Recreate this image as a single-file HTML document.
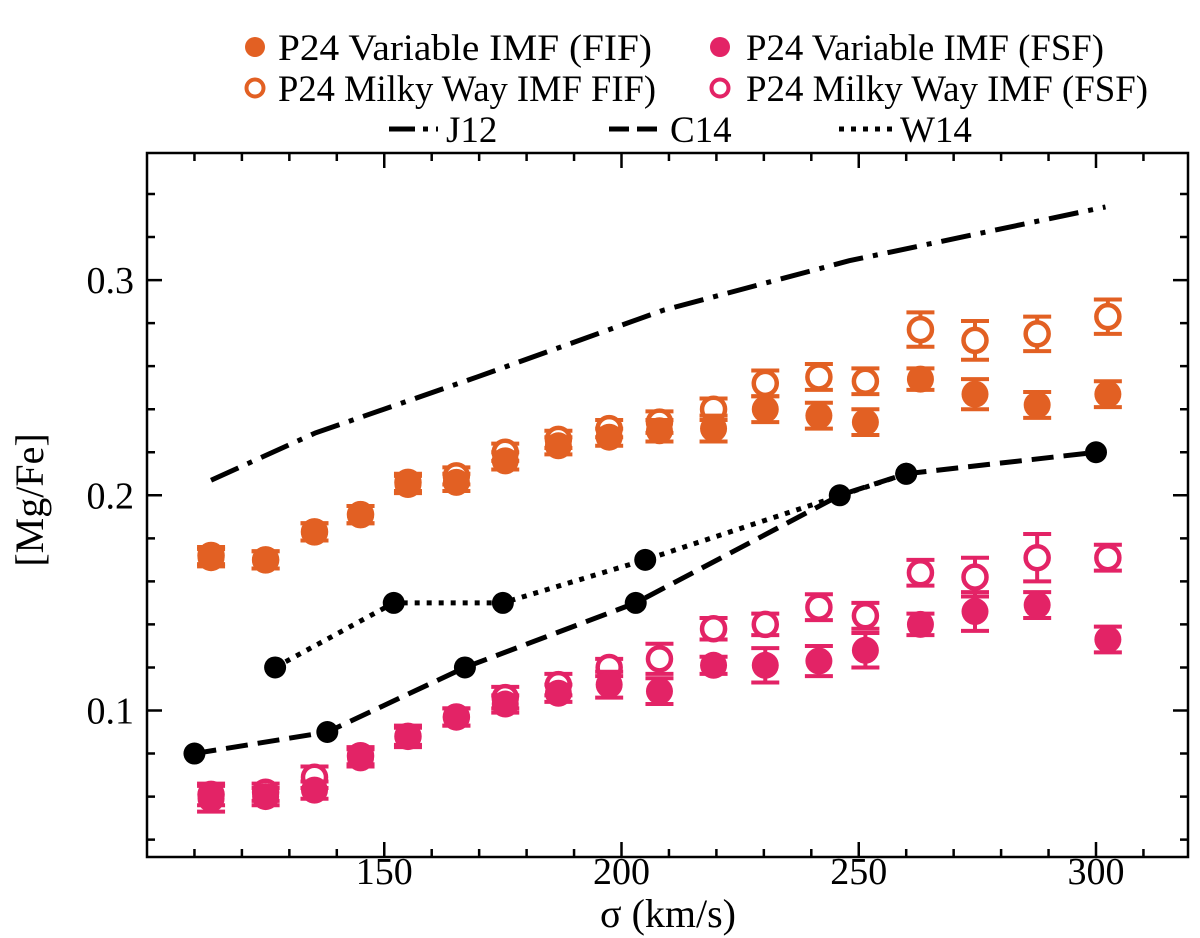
<!DOCTYPE html>
<html><head><meta charset="utf-8"><style>
html,body{margin:0;padding:0;background:#fff;}
svg, svg text{font-family:"Liberation Serif","DejaVu Serif",serif;}
svg{display:block;}
</style></head><body>
<svg id="chart" width="1200" height="938" viewBox="0 0 1200 938" xmlns="http://www.w3.org/2000/svg" font-family="Liberation Serif, serif">
<g id="legend" font-size="37" fill="#000">
  <g><circle cx="255" cy="47" r="10" fill="#e26023"/><text x="278" y="60" textLength="374" lengthAdjust="spacingAndGlyphs">P24 Variable IMF (FIF)</text></g>
  <g><circle cx="720" cy="47" r="10" fill="#e32366"/><text x="746" y="60" textLength="358" lengthAdjust="spacingAndGlyphs">P24 Variable IMF (FSF)</text></g>
  <g><circle cx="255" cy="88" r="8.5" fill="none" stroke="#e26023" stroke-width="4"/><text x="278" y="101" textLength="378" lengthAdjust="spacingAndGlyphs">P24 Milky Way IMF FIF)</text></g>
  <g><circle cx="720" cy="88" r="8.5" fill="none" stroke="#e32366" stroke-width="4"/><text x="746" y="101" textLength="402" lengthAdjust="spacingAndGlyphs">P24 Milky Way IMF (FSF)</text></g>
  <g><line x1="389" y1="129" x2="438" y2="129" stroke="#000" stroke-width="5" stroke-dasharray="26,8,5,8"/><text x="446" y="142">J12</text></g>
  <g><line x1="609" y1="129" x2="658" y2="129" stroke="#000" stroke-width="5" stroke-dasharray="20,8"/><text x="670" y="142">C14</text></g>
  <g><line x1="839" y1="129" x2="892" y2="129" stroke="#000" stroke-width="5" stroke-dasharray="5,7"/><text x="900" y="142">W14</text></g>
</g>
<g id="plot"></g>
<rect x="147" y="153" width="1041" height="704" fill="none" stroke="#000" stroke-width="2.5"/>
<g id="axes" font-size="38" fill="#000"></g>
<text x="668" y="927" font-size="40" text-anchor="middle">σ (km/s)</text>
<text transform="translate(43,500) rotate(-90)" font-size="40" text-anchor="middle">[Mg/Fe]</text>
</svg>
<script>
const sigmaP24 = [113.5,125,135.3,145,155,165.2,175.5,186.7,197.4,208,219.4,230.3,241.6,251.4,263,274.5,287.6,302.5];
const varFIF = [0.171,0.170,0.183,0.191,0.205,0.206,0.216,0.223,0.227,0.230,0.231,0.240,0.237,0.234,0.254,0.247,0.242,0.247];
const varFIFerr = [0.004,0.004,0.004,0.004,0.004,0.004,0.004,0.004,0.004,0.005,0.006,0.006,0.006,0.006,0.005,0.007,0.006,0.006];
const mwFIF = [0.172,0.170,0.183,0.191,0.206,0.209,0.220,0.226,0.231,0.234,0.240,0.252,0.255,0.253,0.277,0.272,0.275,0.283];
const mwFIFerr = [0.004,0.004,0.004,0.004,0.004,0.004,0.004,0.004,0.004,0.005,0.005,0.006,0.006,0.006,0.008,0.009,0.008,0.008];
const varFSF = [0.059,0.060,0.063,0.078,0.088,0.097,0.103,0.108,0.112,0.109,0.121,0.121,0.123,0.128,0.140,0.146,0.149,0.133];
const varFSFerr = [0.006,0.004,0.004,0.004,0.005,0.004,0.004,0.004,0.006,0.006,0.004,0.008,0.007,0.008,0.005,0.009,0.006,0.006];
const mwFSF = [0.061,0.062,0.069,0.079,0.088,0.097,0.106,0.112,0.120,0.124,0.138,0.140,0.148,0.144,0.164,0.162,0.171,0.171];
const mwFSFerr = [0.005,0.004,0.005,0.004,0.004,0.004,0.005,0.005,0.004,0.007,0.005,0.005,0.006,0.006,0.006,0.009,0.011,0.006];
const sigmaJ12 = [113.5,135.5,169.6,208.8,248,302];
const valJ12 = [0.207,0.229,0.255,0.286,0.309,0.334];
const sigmaC14 = [110,138,167,203,246,260,300];
const valC14 = [0.080,0.090,0.120,0.150,0.200,0.210,0.220];
const sigmaW14 = [127,152,175,205,260];
const valW14 = [0.120,0.150,0.150,0.170,0.210];
const xTicks = [150,200,250,300];
const yTicks = [0.1,0.2,0.3];
const yTickLabels = ["0.1","0.2","0.3"];

const NS="http://www.w3.org/2000/svg";
const X = v => 147 + (v-100)*4.745;
const Y = v => 495.3 - (v-0.2)*2152;
const plot=document.getElementById('plot'), axes=document.getElementById('axes');
function mk(tag, parent){const e=document.createElementNS(NS,tag);parent.appendChild(e);return e;}

function lineSeries(xs, ys, dash, name){
  const p=mk('polyline',plot);
  
  
  p.setAttribute('points', xs.map((s,i)=>X(s)+','+Y(ys[i])).join(' '));
  p.setAttribute('fill','none');p.setAttribute('stroke','#000');p.setAttribute('stroke-width','5');
  p.setAttribute('stroke-dasharray',dash);
}
function pointSeries(xs, ys, errs, color, open, name){
  const g=mk('g',plot);
  
  
  xs.forEach((s,i)=>{
    const cx=X(s), cy=Y(ys[i]), t=Y(ys[i]+errs[i]), b=Y(ys[i]-errs[i]);
    const eb=mk('path',g);
    
    
    eb.setAttribute('d',`M${cx},${t}V${b}M${cx-14},${t}H${cx+14}M${cx-14},${b}H${cx+14}`);
    eb.setAttribute('stroke',color);eb.setAttribute('stroke-width','4');eb.setAttribute('fill','none');
    const c=mk('circle',g);
    
    
    c.setAttribute('cx',cx);c.setAttribute('cy',cy);
    if(open){c.setAttribute('r','11.5');c.setAttribute('fill','#fff');c.setAttribute('stroke',color);c.setAttribute('stroke-width','4.5');}
    else{c.setAttribute('r','13.5');c.setAttribute('fill',color);}
  });
}
function blackDots(xs, ys, name){
  xs.forEach((s,i)=>{
    const c=mk('circle',plot);
    
    
    c.setAttribute('cx',X(s));c.setAttribute('cy',Y(ys[i]));c.setAttribute('r','11');c.setAttribute('fill','#000');
  });
}
lineSeries(sigmaJ12, valJ12, '30,10,5,10', 'j12-line');
lineSeries(sigmaC14, valC14, '22,10', 'c14-line');
lineSeries(sigmaW14, valW14, '5,7', 'w14-line');
pointSeries(sigmaP24, mwFIF, mwFIFerr, '#e26023', true, 'milkyway-fif');
pointSeries(sigmaP24, varFIF, varFIFerr, '#e26023', false, 'variable-fif');
pointSeries(sigmaP24, mwFSF, mwFSFerr, '#e32366', true, 'milkyway-fsf');
pointSeries(sigmaP24, varFSF, varFSFerr, '#e32366', false, 'variable-fsf');
blackDots(sigmaC14, valC14, 'c14-point');
blackDots(sigmaW14, valW14, 'w14-point');

for(let v=110; v<=310; v+=10){
  const major = xTicks.includes(v), L = major?15:8, x=X(v);
  const tk=mk('path',axes);
  
  
  tk.setAttribute('d',`M${x},857V${857-L}M${x},153V${153+L}`);tk.setAttribute('stroke','#000');tk.setAttribute('stroke-width','2.5');
}
xTicks.forEach(v=>{
  const t=mk('text',axes);
  
  
  t.setAttribute('x',X(v));t.setAttribute('y','884');t.setAttribute('text-anchor','middle');t.textContent=v;
});
for(let k=2;k<=17;k++){
  const v=k*0.02, y=Y(v);
  if(y<155||y>855) continue;
  const major = k%5===0, L = major?15:8;
  const tk=mk('path',axes);
  
  
  tk.setAttribute('d',`M147,${y}H${147+L}M1188,${y}H${1188-L}`);tk.setAttribute('stroke','#000');tk.setAttribute('stroke-width','2.5');
}
yTicks.forEach((v,i)=>{
  const t=mk('text',axes);
  
  
  t.setAttribute('x','134');t.setAttribute('y',Y(v)+13);t.setAttribute('text-anchor','end');t.textContent=yTickLabels[i];
});
</script>
</body></html>
